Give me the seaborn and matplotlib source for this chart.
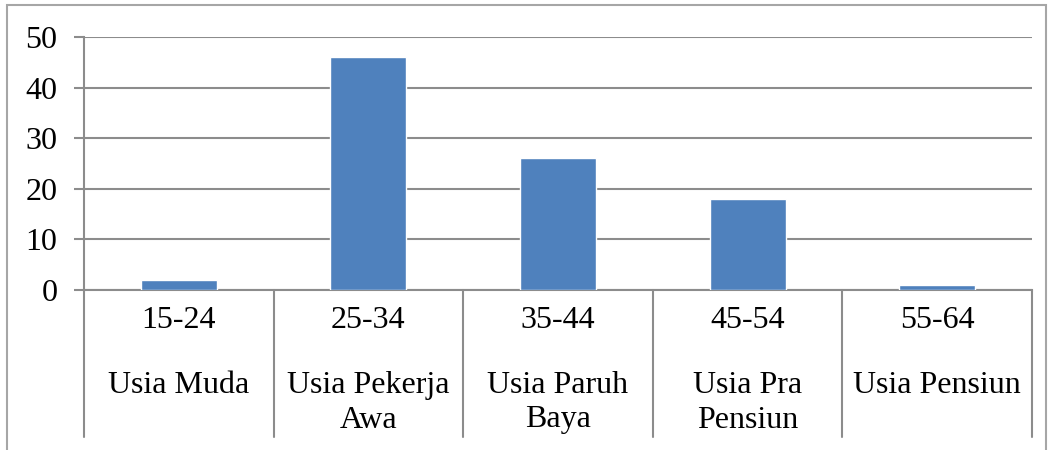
import matplotlib
matplotlib.use("Agg")
import matplotlib.pyplot as plt
import matplotlib.transforms as mtransforms
from matplotlib.patches import Rectangle
import seaborn as sns

age_ranges = ["15-24", "25-34", "35-44", "45-54", "55-64"]
group_names = ["Usia Muda", "Usia Pekerja\nAwa", "Usia Paruh\nBaya", "Usia Pra\nPensiun", "Usia Pensiun"]
counts = [2, 46, 26, 18, 1]
y_ticks = [0, 10, 20, 30, 40, 50]

sns.set_style("white")
plt.rcParams["font.family"] = ["Liberation Serif", "DejaVu Serif"]
plt.rcParams["text.color"] = "black"
plt.rcParams["ytick.labelcolor"] = "black"

grid_col = "#8c8c8c"
fig = plt.figure(figsize=(10.52, 4.5), dpi=100)
ax = fig.add_axes([84 / 1052, 1 - 290 / 450, (1032 - 84) / 1052, (290 - 37) / 450])

sns.barplot(x=age_ranges, y=counts, color="#4F81BD", width=0.4, saturation=1, ax=ax, zorder=3)

ax.set_xlim(-0.5, len(age_ranges) - 0.5)
ax.set_ylim(0, 50)
ax.set_yticks(y_ticks)
ax.set_yticklabels([str(v) for v in y_ticks], fontsize=23, color="black")
ax.yaxis.grid(True, color=grid_col, linewidth=1.5, zorder=0)
ax.set_axisbelow(True)
ax.tick_params(axis="y", length=7, width=1.5, color=grid_col, pad=12, direction="out", left=True)
ax.set_xticks([])
ax.set_xlabel("")
ax.set_ylabel("")
for side in ["top", "right"]:
    ax.spines[side].set_visible(False)
for side in ["left", "bottom"]:
    ax.spines[side].set_color(grid_col)
    ax.spines[side].set_linewidth(1.5)

# multi-level category labels and separators
trans = mtransforms.blended_transform_factory(ax.transData, ax.transAxes)
depth = -(437 - 290) / (290 - 37)
for i in range(len(age_ranges) + 1):
    ax.plot([i - 0.5, i - 0.5], [0, depth], transform=trans, color=grid_col,
            linewidth=1.5, clip_on=False)
for i, (rng, name) in enumerate(zip(age_ranges, group_names)):
    ax.text(i, -(321 - 290) / 253, rng, transform=trans, ha="center", va="center",
            fontsize=23, color="black")
    ax.text(i, -(371 - 290) / 253, name, transform=trans, ha="center", va="top",
            fontsize=23, linespacing=1.25, color="black")

# outer chart border
fig.patches.append(Rectangle((7 / 1052, -0.01), (1046 - 7) / 1052, 1 - 5 / 450 + 0.01,
                             transform=fig.transFigure, fill=False, edgecolor="#a6a6a6",
                             linewidth=1.5))

fig.savefig("out.png", dpi=100)
